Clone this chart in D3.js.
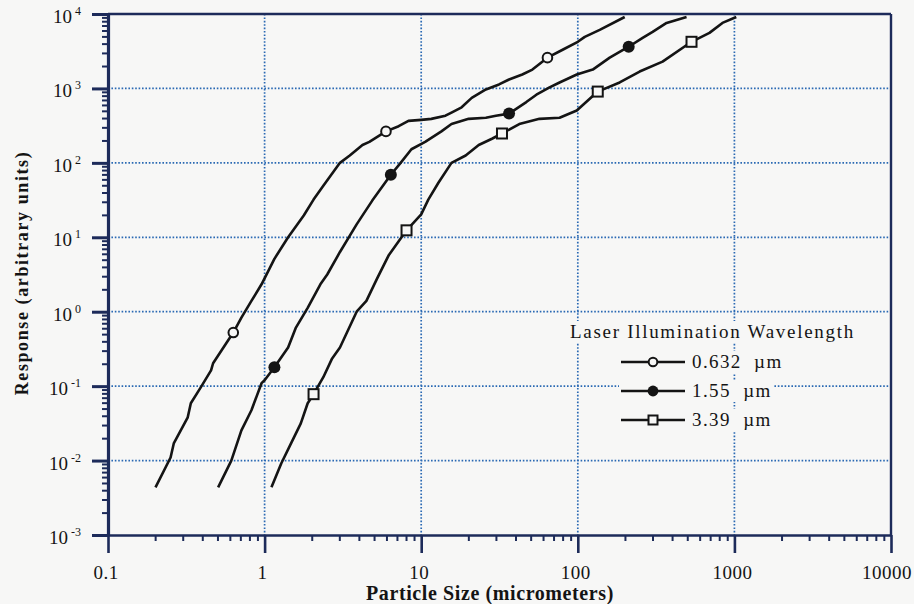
<!DOCTYPE html>
<html>
<head>
<meta charset="utf-8">
<script src="https://cdn.jsdelivr.net/npm/d3@7"></script>
<style>
body { margin: 0; background: #f7f7f6; }
svg { display: block; font-family: "Liberation Serif", "Times New Roman", serif; }
</style>
</head>
<body>
<svg width="914" height="604"></svg>
<script>
/**Data**/
//0.632 um curve (particle size in um, response)
var size632 = [0.201, 0.251, 0.263, 0.323, 0.338, 0.392, 0.455, 0.469, 0.631, 0.711, 0.824, 0.956, 1.155, 1.413, 1.778, 2.054, 2.371, 3.028, 3.498, 4.217, 4.666, 5.957, 7.18, 8.29, 10.0, 11.6, 14.28, 15.61, 18.12, 21.02, 25.88, 31.4, 36.4, 44.2, 51.3, 64.0, 80.0, 100, 110.8, 138, 199.3];
var resp632 = [0.00437, 0.011, 0.017, 0.0381, 0.0589, 0.0969, 0.163, 0.203, 0.525, 0.832, 1.396, 2.336, 5.135, 10.0, 19.65, 32.1, 49.4, 100, 125.5, 173.5, 191, 264.6, 311, 366, 378, 390, 430, 474, 558, 747, 968, 1131, 1318, 1537, 1792, 2590, 3311, 4232, 4935, 6118, 9120];
//1.55 um curve
var size155 = [0.505, 0.613, 0.711, 0.824, 0.956, 1.0, 1.155, 1.413, 1.585, 1.884, 2.271, 2.512, 3.028, 3.87, 4.87, 6.40, 7.39, 8.66, 10.6, 13.46, 15.61, 20.1, 25.88, 30.0, 36.4, 46.9, 54.4, 66.0, 76.5, 98.5, 124.6, 159.9, 211.3, 259.4, 300.5, 368.9, 494.8];
var resp155 = [0.00437, 0.01, 0.0254, 0.0474, 0.1096, 0.12, 0.179, 0.331, 0.612, 1.129, 2.336, 3.162, 6.35, 14.9, 31.1, 69.2, 100, 152.4, 191, 264.6, 332, 390, 403, 430, 459, 656, 823, 1031, 1202, 1537, 1792, 2590, 3631, 4786, 5754, 7586, 9120];
//3.39 um curve
var size339 = [1.106, 1.277, 1.475, 1.703, 1.884, 2.054, 2.371, 2.70, 3.028, 3.87, 4.467, 5.234, 6.22, 8.06, 10.0, 11.1, 12.88, 15.61, 19.23, 23.3, 28.3, 32.8, 42.3, 56.9, 76.5, 98.5, 134.1, 185.1, 248.3, 347.8, 532.3, 693, 838.7, 1028];
var resp339 = [0.00437, 0.00912, 0.017, 0.0316, 0.0589, 0.078, 0.1318, 0.236, 0.331, 1.0, 1.396, 2.80, 5.80, 12.4, 20.3, 32.1, 54.1, 100, 125.5, 173.5, 210.8, 248, 332, 390, 403, 506, 907, 1202, 1685, 2291, 4232, 5580, 7586, 9120];

//marker positions on each curve
var mark632X = [0.631, 5.957, 64.0];
var mark632Y = [0.525, 264.6, 2590];
var mark155X = [1.155, 6.40, 36.4, 211.3];
var mark155Y = [0.179, 69.2, 459, 3631];
var mark339X = [2.054, 8.06, 32.8, 134.1, 532.3];
var mark339Y = [0.078, 12.4, 248, 907, 4232];

//axis ticks and labels
var xTicks = [0.1, 1, 10, 100, 1000, 10000];
var xTickLabels = ["0.1", "1", "10", "100", "1000", "10000"];
var yTicks = [1e-3, 1e-2, 1e-1, 1, 10, 100, 1000, 10000];
var yTickExp = ["-3", "-2", "-1", "0", "1", "2", "3", "4"];

var legendTitle = "Laser Illumination Wavelength";
var legendLabels = ["0.632  \u00b5m", "1.55  \u00b5m", "3.39  \u00b5m"];
var legendShapes = ["open", "filled", "square"];

/**Initialization**/
var svg = d3.select("svg");
var navy = "#1d2b5a";
var grid = "#2a69b3";
var ink = "#141414";
var paper = "#f7f7f6";

var x = d3.scaleLog().domain([0.1, 10000]).range([108, 891]);
var y = d3.scaleLog().domain([0.001, 10000]).range([535, 14]);

//minor ticks 2..9 in each decade
var minorX = [];
for (var d = -1; d < 4; d++) {
	for (var k = 2; k < 10; k++) minorX.push(k * Math.pow(10, d));
}
var minorY = [];
for (var d = -3; d < 4; d++) {
	for (var k = 2; k < 10; k++) minorY.push(k * Math.pow(10, d));
}

//dotted grid
var gridG = svg.append("g").attr("class", "grid");
gridG.selectAll(".vg")
	.data(xTicks.slice(1, -1))
	.enter().append("line")
	.attr("x1", function(d) { return x(d); })
	.attr("x2", function(d) { return x(d); })
	.attr("y1", y(10000))
	.attr("y2", y(0.001));
gridG.selectAll(".hg")
	.data(yTicks.slice(1, -1))
	.enter().append("line")
	.attr("y1", function(d) { return y(d); })
	.attr("y2", function(d) { return y(d); })
	.attr("x1", x(0.1))
	.attr("x2", x(10000));
gridG.selectAll("line")
	.attr("stroke", grid)
	.attr("stroke-width", 1.7)
	.attr("stroke-dasharray", "1.6 1.8");

//curves
var line = d3.line()
	.x(function(d) { return x(d[0]); })
	.y(function(d) { return y(d[1]); });

var series = [
	{ xs: size632, ys: resp632, mx: mark632X, my: mark632Y, shape: "open" },
	{ xs: size155, ys: resp155, mx: mark155X, my: mark155Y, shape: "filled" },
	{ xs: size339, ys: resp339, mx: mark339X, my: mark339Y, shape: "square" }
];

series.forEach(function(s) {
	svg.append("path")
		.datum(d3.zip(s.xs, s.ys))
		.attr("d", line)
		.attr("fill", "none")
		.attr("stroke", ink)
		.attr("stroke-width", 2.6)
		.attr("stroke-linejoin", "round");
	var pts = d3.zip(s.mx, s.my);
	var g = svg.append("g");
	pts.forEach(function(p) {
		drawMarker(g, x(p[0]), y(p[1]), s.shape, 1);
	});
});

function drawMarker(g, cx, cy, shape, scale) {
	if (shape == "open") {
		g.append("circle").attr("cx", cx).attr("cy", cy).attr("r", 4.8 * scale)
			.attr("fill", paper).attr("stroke", ink).attr("stroke-width", 2);
	}
	else if (shape == "filled") {
		g.append("circle").attr("cx", cx).attr("cy", cy).attr("r", 6 * scale)
			.attr("fill", ink);
	}
	else {
		var s = 10 * scale;
		g.append("rect").attr("x", cx - s / 2).attr("y", cy - s / 2)
			.attr("width", s).attr("height", s)
			.attr("fill", paper).attr("stroke", ink).attr("stroke-width", 2);
	}
}

//axes: major and minor ticks
var axisG = svg.append("g").attr("class", "axes");
axisG.append("g")
	.attr("transform", "translate(0," + y(0.001) + ")")
	.call(d3.axisBottom(x).tickValues(minorX).tickSize(6).tickSizeOuter(0).tickFormat(""))
	.call(function(g) { g.select(".domain").remove(); })
	.selectAll("line").attr("stroke-width", 2);
axisG.append("g")
	.attr("transform", "translate(0," + y(0.001) + ")")
	.call(d3.axisBottom(x).tickValues(xTicks).tickSize(18).tickSizeOuter(0).tickFormat(""))
	.selectAll("line").attr("stroke-width", 2.6);
axisG.append("g")
	.attr("transform", "translate(" + x(0.1) + ",0)")
	.call(d3.axisLeft(y).tickValues(minorY).tickSize(6).tickSizeOuter(0).tickFormat(""))
	.call(function(g) { g.select(".domain").remove(); })
	.selectAll("line").attr("stroke-width", 2);
axisG.append("g")
	.attr("transform", "translate(" + x(0.1) + ",0)")
	.call(d3.axisLeft(y).tickValues(yTicks).tickSize(16).tickSizeOuter(0).tickFormat(""))
	.selectAll("line").attr("stroke-width", 3);
//top and right frame
axisG.append("line")
	.attr("x1", x(0.1)).attr("x2", x(10000))
	.attr("y1", y(10000)).attr("y2", y(10000))
	.attr("stroke-width", 2.4);
axisG.append("line")
	.attr("x1", x(10000)).attr("x2", x(10000))
	.attr("y1", y(10000)).attr("y2", y(0.001))
	.attr("stroke-width", 2.4);
axisG.selectAll("line").attr("stroke", navy);
axisG.selectAll(".domain").attr("stroke", navy).attr("stroke-width", 2.6);
axisG.select("g:nth-child(4) .domain").attr("stroke-width", 3.2);

//tick labels
svg.append("g")
	.selectAll("text")
	.data(xTicks)
	.enter().append("text")
	.attr("x", function(d, i) { return i == 5 ? 912 : x(d) - 2; })
	.attr("y", 579)
	.attr("text-anchor", function(d, i) { return i == 5 ? "end" : "middle"; })
	.attr("font-size", 19)
	.attr("letter-spacing", 0.5)
	.attr("fill", ink)
	.text(function(d, i) { return xTickLabels[i]; });

var yLab = svg.append("g")
	.selectAll("text")
	.data(yTicks)
	.enter().append("text")
	.attr("x", 81)
	.attr("y", function(d) { return y(d) + 9; })
	.attr("text-anchor", "end")
	.attr("font-size", 19)
	.attr("fill", ink);
yLab.append("tspan").text("10");
yLab.append("tspan")
	.attr("dx", 3)
	.attr("dy", -8)
	.attr("font-size", 12)
	.text(function(d, i) { return yTickExp[i]; });

//axis titles
svg.append("text")
	.attr("x", 490)
	.attr("y", 600)
	.attr("text-anchor", "middle")
	.attr("font-size", 20)
	.attr("font-weight", "bold")
	.attr("letter-spacing", 0.6)
	.attr("fill", ink)
	.text("Particle Size (micrometers)");
svg.append("text")
	.attr("transform", "translate(28,273) rotate(-90)")
	.attr("text-anchor", "middle")
	.attr("font-size", 18)
	.attr("font-weight", "bold")
	.attr("letter-spacing", 1.6)
	.attr("fill", ink)
	.text("Response (arbitrary units)");

//legend, text is drawn opaque over the grid
var legend = svg.append("g").attr("class", "legend");
var titleBg = legend.append("rect").attr("fill", paper);
var title = legend.append("text")
	.attr("x", 570)
	.attr("y", 338)
	.attr("font-size", 19)
	.attr("letter-spacing", 1.7)
	.attr("fill", ink)
	.text(legendTitle);
var tb = title.node().getBBox();
titleBg.attr("x", tb.x - 2).attr("y", tb.y).attr("width", tb.width + 4).attr("height", tb.height);

legendLabels.forEach(function(lbl, i) {
	var ly = 362 + i * 29;
	var row = legend.append("g");
	var bg = row.append("rect").attr("fill", paper);
	row.append("line")
		.attr("x1", 621).attr("x2", 685)
		.attr("y1", ly).attr("y2", ly)
		.attr("stroke", ink)
		.attr("stroke-width", 2.6);
	drawMarker(row, 653, ly, legendShapes[i], 0.9);
	var t = row.append("text")
		.attr("x", 692)
		.attr("y", ly + 6)
		.attr("font-size", 19)
		.attr("letter-spacing", 1.4)
		.attr("fill", ink)
		.style("white-space", "pre")
		.text(lbl);
	var b = t.node().getBBox();
	bg.attr("x", 619).attr("y", ly - 11).attr("width", b.x + b.width - 617).attr("height", 22);
});
</script>
</body>
</html>
